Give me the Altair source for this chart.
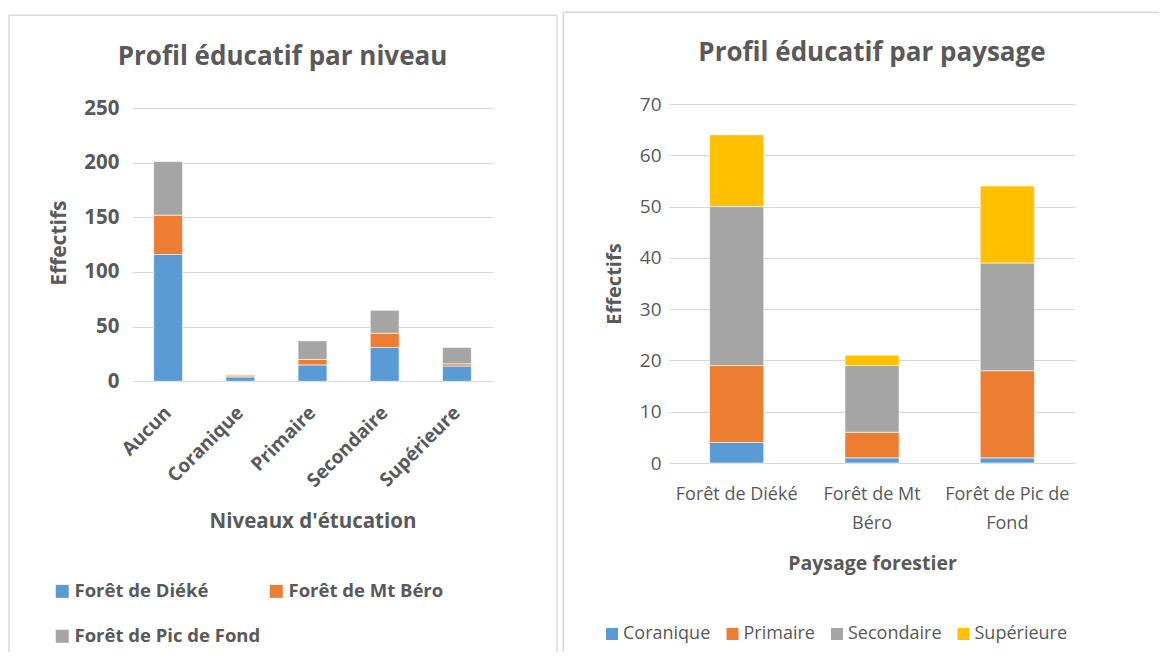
import json
import altair as alt
import pandas as pd

# ---------------- data ----------------
niveaux = ["Aucun", "Coranique", "Primaire", "Secondaire", "Supérieure"]
forets = ["Forêt de Diéké", "Forêt de Mt Béro", "Forêt de Pic de Fond"]
foret_dieke = [116, 4, 15, 31, 14]
foret_mt_bero = [36, 1, 5, 13, 2]
foret_pic_de_fond = [49, 1, 17, 21, 15]

paysages = ["Forêt de Diéké", "Forêt de Mt Béro", "Forêt de Pic de Fond"]
paysage_lignes = [["Forêt de Diéké"], ["Forêt de Mt", "Béro"], ["Forêt de Pic de", "Fond"]]
niveaux_p = ["Coranique", "Primaire", "Secondaire", "Supérieure"]
coranique = [4, 1, 1]
primaire = [15, 5, 17]
secondaire = [31, 13, 21]
superieure = [14, 2, 15]

y_ticks_l = [0, 50, 100, 150, 200, 250]
y_ticks_r = [0, 10, 20, 30, 40, 50, 60, 70]

colors_l = ["#5B9BD5", "#ED7D31", "#A5A5A5"]
colors_r = ["#5B9BD5", "#ED7D31", "#A5A5A5", "#FFC000"]

TXT = "#595959"
GRID = "#D9D9D9"
FONT = "Open Sans"

# ---------------- tables ----------------
rows_l = []
for i, (f, vals) in enumerate(zip(forets, [foret_dieke, foret_mt_bero, foret_pic_de_fond])):
    for n, v in zip(niveaux, vals):
        rows_l.append({"niveau": n, "foret": f, "effectif": v, "ordre": i})
df_l = pd.DataFrame(rows_l)

rows_r = []
for i, (n, vals) in enumerate(zip(niveaux_p, [coranique, primaire, secondaire, superieure])):
    for p, v in zip(paysages, vals):
        rows_r.append({"paysage": p, "niveau": n, "effectif": v, "ordre": i})
df_r = pd.DataFrame(rows_r)

WL, HL = 361, 277.3
WR, HR = 406, 359


def border(x, x2, y, y2):
    return alt.Chart(alt.Data(values=[{}])).mark_rule(color=GRID, strokeWidth=1.5).encode(
        x=alt.value(x), x2=alt.value(x2), y=alt.value(y), y2=alt.value(y2)
    )


# ---------------- left chart ----------------
bars_l = alt.Chart(df_l).mark_bar(stroke="white", strokeWidth=0.6).encode(
    x=alt.X(
        "niveau:N", sort=niveaux,
        scale=alt.Scale(paddingInner=0.6, paddingOuter=0.3),
        axis=alt.Axis(
            title="Niveaux d'étucation", labelAngle=-45, labelAlign="right", labelBaseline="middle",
            labelPadding=28, ticks=False, domain=False, grid=False,
            labelFontWeight="bold", labelFontSize=19,
            titleX=WL / 2, titleY=140, titleFontSize=20.5, titleFontWeight="bold",
            titleBaseline="middle", titleAlign="center",
        ),
    ),
    y=alt.Y(
        "effectif:Q", stack="zero",
        scale=alt.Scale(domain=[0, 253.7], nice=False, zero=True),
        axis=alt.Axis(
            title="Effectifs", values=y_ticks_l, ticks=False, domain=False,
            labelFontWeight="bold", labelFontSize=20.5, labelPadding=13,
            titleFontSize=21, titleFontWeight="bold", titleAngle=-90,
            titleX=-73, titleY=HL / 2, titleBaseline="middle", titleAlign="center",
        ),
    ),
    color=alt.Color(
        "foret:N", sort=forets,
        scale=alt.Scale(domain=forets, range=colors_l),
        legend=alt.Legend(
            title=None, orient="none", legendX=-79, legendY=478, columns=2, direction="horizontal",
            symbolType="square", symbolSize=169, symbolStrokeWidth=0,
            labelFontSize=18.5, labelFontWeight="bold", labelColor=TXT,
            columnPadding=6, rowPadding=26, labelOffset=3, labelLimit=400,
        ),
    ),
    order=alt.Order("ordre:Q", sort="ascending"),
)

left = alt.layer(
    border(-123, 425, -88.7, -88.7),
    border(-123, -123, -88.7, 548),
    border(425, 425, -88.7, 548),
    bars_l,
).properties(
    width=WL, height=HL,
    title=alt.TitleParams(
        "Profil éducatif par niveau", anchor="middle", fontSize=26, fontWeight="bold",
        color=TXT, baseline="alphabetic", offset=0, dy=76, dx=-30,
    ),
)

# ---------------- right chart ----------------
label_expr = " : ".join(
    f"datum.value == {json.dumps(p)} ? {json.dumps(l)}" for p, l in zip(paysages, paysage_lignes)
) + " : datum.label"

bars_r = alt.Chart(df_r).mark_bar(stroke="white", strokeWidth=0.6).encode(
    x=alt.X(
        "paysage:N", sort=paysages,
        scale=alt.Scale(paddingInner=0.6, paddingOuter=0.3),
        axis=alt.Axis(
            title="Paysage forestier", labelAngle=0, labelExpr=label_expr,
            labelBaseline="top", labelPadding=22, labelLineHeight=29,
            ticks=False, domain=False, grid=False, labelFontSize=18,
            titleX=WR / 2, titleY=100, titleFontSize=19.5, titleFontWeight="bold",
            titleBaseline="middle", titleAlign="center",
        ),
    ),
    y=alt.Y(
        "effectif:Q", stack="zero",
        scale=alt.Scale(domain=[0, 70], nice=False),
        axis=alt.Axis(
            title="Effectifs", values=y_ticks_r, ticks=False, domain=False,
            labelFontSize=19, labelPadding=8,
            titleFontSize=20, titleFontWeight="bold", titleAngle=-90,
            titleX=-55, titleY=HR / 2, titleBaseline="middle", titleAlign="center",
        ),
    ),
    color=alt.Color(
        "niveau:N", sort=niveaux_p,
        scale=alt.Scale(domain=niveaux_p, range=colors_r),
        legend=alt.Legend(
            title=None, orient="none", legendX=-66, legendY=521, direction="horizontal", columns=4,
            symbolType="square", symbolSize=144, symbolStrokeWidth=0,
            labelFontSize=18, labelColor=TXT, columnPadding=12.5, labelOffset=2, labelLimit=400,
        ),
    ),
    order=alt.Order("ordre:Q", sort="ascending"),
)

right = alt.layer(
    border(-105.7, 490, -91.7, -91.7),
    border(-105.7, -105.7, -91.7, 548),
    bars_r,
).properties(
    width=WR, height=HR,
    title=alt.TitleParams(
        "Profil éducatif par paysage", anchor="middle", fontSize=26, fontWeight="bold",
        color=TXT, baseline="alphabetic", offset=0, dy=75,
    ),
)

chart = alt.hconcat(left, right, spacing=176, bounds="flush").resolve_scale(
    color="independent"
).resolve_legend(color="independent").properties(
    padding={"left": 0, "top": 3, "right": 0, "bottom": 0}
).configure_view(stroke=None).configure_axis(
    labelColor=TXT, titleColor=TXT, gridColor=GRID, gridWidth=1,
    labelFont=FONT, titleFont=FONT,
).configure_legend(labelFont=FONT).configure_title(font=FONT)

chart.save("out.html", embed_options={"renderer": "svg", "actions": False})
